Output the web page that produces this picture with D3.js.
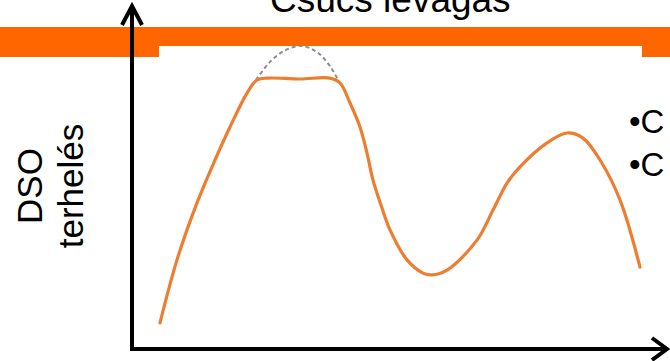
<!DOCTYPE html>
<html>
<head>
<meta charset="utf-8">
<script src="https://cdn.jsdelivr.net/npm/d3@7"></script>
<style>
  html, body { margin: 0; padding: 0; background: #fff; }
  svg { display: block; font-family: "Liberation Sans", Arial, sans-serif; }
</style>
</head>
<body>
<svg id="chart" width="670" height="361"></svg>
<script>
// Daily DSO load profile (hour of day, relative load) after peak shaving
const hours = [0, 0.85, 1.85, 2.75, 3.5, 4.35, 4.85, 5.4, 7, 8.5, 9, 9.5, 10, 10.35, 10.65, 11.1,
               11.5, 12.35, 13.15, 13.6, 14.35, 15.85, 16.65, 17.35, 18, 19.35, 20.35, 21.15, 22, 23, 24];
const loadShaved = [8.7, 29.7, 48.7, 63, 74, 85.3, 89.7, 90.3, 90, 90.3, 88.7, 82, 74, 65.3, 56.3, 47,
                    39.7, 29.7, 25.3, 24.7, 26.3, 36.3, 46.3, 55.3, 60.7, 68.7, 72, 70.3, 63, 49.7, 27.3];

// Original peak that has been cut off
const peakHours = [4.8, 5.5, 6.3, 7.1, 7.9, 8.5, 8.9];
const peakLoad = [89.7, 95.7, 99.7, 101, 98.7, 94.3, 89.7];

const titleText = "Csúcs levágás";
const axisLabel = ["DSO", "terhelés"];
const bullets = ["•C", "•C"];

const svg = d3.select("#chart");

const x = d3.scaleLinear().domain([0, 24]).range([160, 640]);
const y = d3.scaleLinear().domain([0, 100]).range([349, 49]);

// Title (partly above the visible area)
svg.append("text")
  .attr("x", 270).attr("y", 12)
  .attr("font-size", 37)
  .attr("fill", "#000")
  .text(titleText);

// Orange header band with a notch underneath
svg.append("rect").attr("x", 0).attr("y", 27).attr("width", 670).attr("height", 30).attr("fill", "#FF6600");
svg.append("rect").attr("x", 159).attr("y", 46).attr("width", 483).attr("height", 11).attr("fill", "#fff");

// Y axis label, two rotated lines
const labelG = svg.append("g").attr("transform", "translate(0,186) rotate(-90)");
axisLabel.forEach((t, i) => {
  labelG.append("text")
    .attr("x", 0).attr("y", 42 + i * 41)
    .attr("text-anchor", "middle")
    .attr("font-size", 35)
    .attr("fill", "#000")
    .text(t);
});

// Bullet text on the right
bullets.forEach((t, i) => {
  svg.append("text")
    .attr("x", 629).attr("y", 133 + i * 43)
    .attr("font-size", 33)
    .attr("fill", "#000")
    .text(t);
});

const line = d3.line().curve(d3.curveCatmullRom.alpha(0.5));

// Cut-off peak, dashed
svg.append("path")
  .attr("d", line(peakHours.map((h, i) => [x(h), y(peakLoad[i])])))
  .attr("fill", "none")
  .attr("stroke", "#8c8c8c")
  .attr("stroke-width", 2)
  .attr("stroke-dasharray", "4,3");

// Shaved load curve
svg.append("path")
  .attr("d", line(hours.map((h, i) => [x(h), y(loadShaved[i])])))
  .attr("fill", "none")
  .attr("stroke", "#ED7D31")
  .attr("stroke-width", 3.2)
  .attr("stroke-linecap", "round");

// Axes with arrowheads
const x0 = x(-1.4), y0 = y(0);
const axes = svg.append("g").attr("stroke", "#000").attr("stroke-width", 4).attr("fill", "none");
axes.append("path").attr("d", `M${x0},${y0 + 2}V${y(114.5)}`);
axes.append("path").attr("d", `M${x0 - 2},${y0}H${x(25.4)}`);
axes.append("path").attr("d", `M${x0 - 10},${y(108)}L${x0},${y(114.3)}L${x0 + 10},${y(108)}`)
  .attr("stroke-linejoin", "miter");
axes.append("path").attr("d", `M${x(24.6)},${y0 - 11}L${x(25.35)},${y0}L${x(24.6)},${y0 + 11}`)
  .attr("stroke-linejoin", "miter");
</script>
</body>
</html>
